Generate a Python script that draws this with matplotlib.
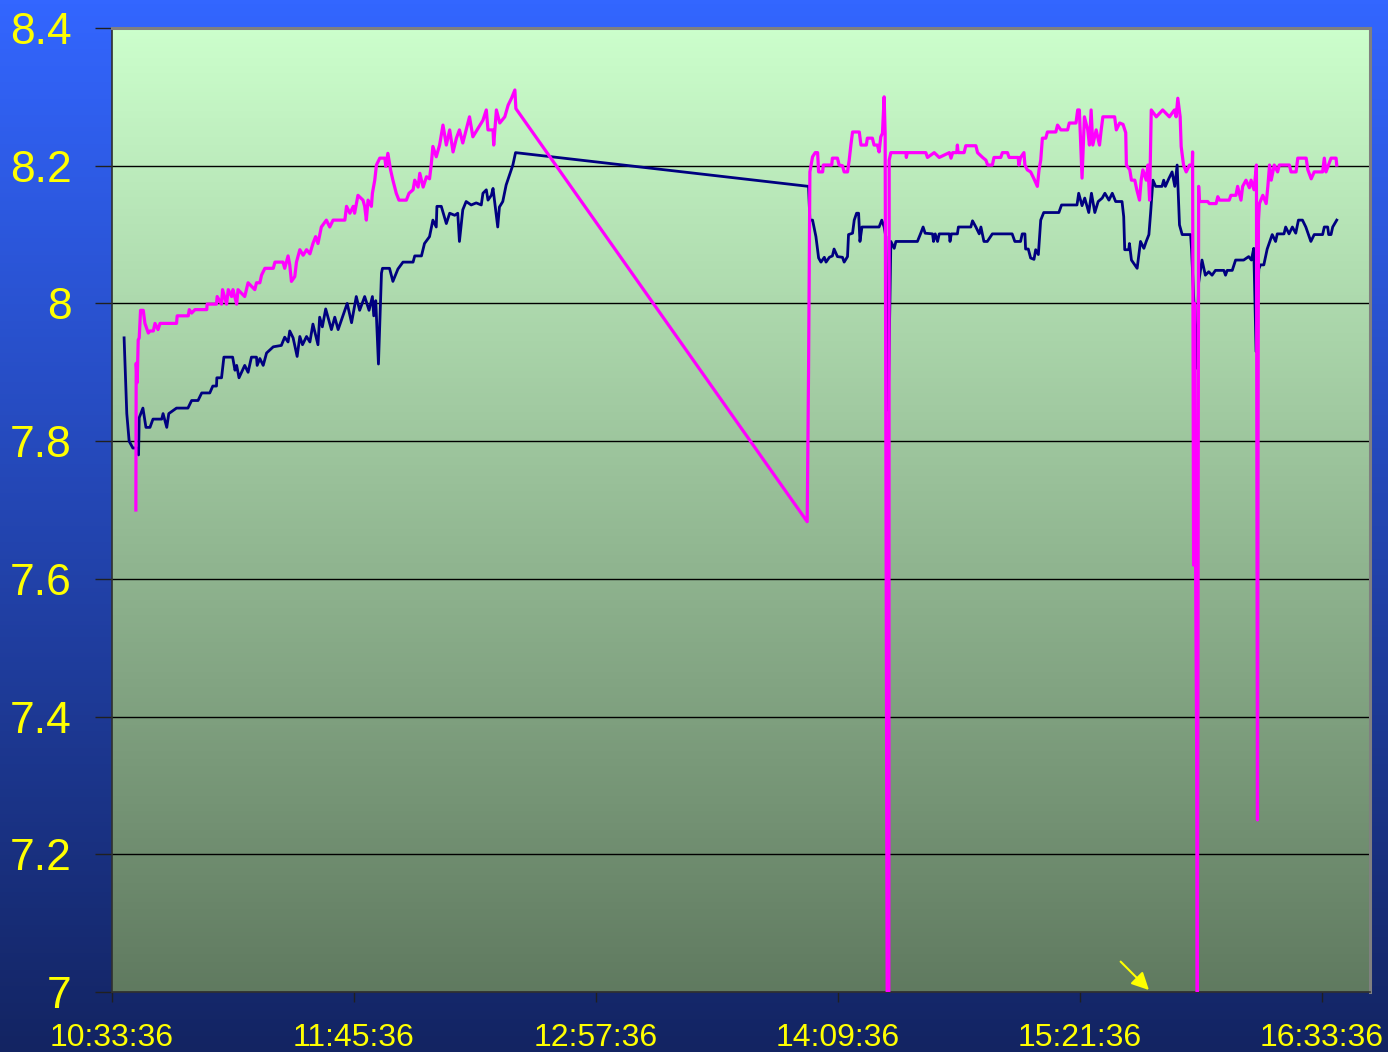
import numpy as np
import matplotlib
matplotlib.use('Agg')
import matplotlib.pyplot as plt
from matplotlib.ticker import FixedLocator

plt.rcParams['font.family'] = ['Liberation Sans', 'DejaVu Sans']

# minutes elapsed since 10:33:36
nav_t = [3.6, 4.4, 5.1, 6.2, 7.3, 7.9, 8.1, 9.2, 10.1, 11.3, 12.2, 14.8, 15.2, 16.3, 16.9, 19.2, 22.6, 23.7,
         25.6, 26.7, 29.1, 30.0, 31.1, 31.2, 32.6, 33.3, 35.9, 36.6, 37.1, 37.8, 39.5, 40.5, 41.5, 43.0, 43.2,
         44.0, 45.0, 46.0, 48.0, 50.4, 51.4, 52.4, 52.9, 53.9, 55.1, 55.9, 56.7, 57.9, 58.9, 59.8, 61.3, 61.8,
         62.6, 63.6, 65.3, 66.3, 67.3, 68.3, 70.0, 71.3, 72.7, 73.7, 75.2, 76.5, 77.5, 77.9, 78.5, 79.3, 80.2,
         80.5, 82.6, 83.6, 85.1, 86.6, 89.6, 90.1, 92.1, 93.0, 94.5, 95.5, 96.5, 96.7, 98.0, 99.5, 100.5,
         102.0, 102.9, 103.4, 104.4, 105.4, 106.9, 108.4, 109.9, 110.4, 111.4, 111.9, 112.9, 113.4, 114.8,
         115.3, 116.3, 117.3, 119.3, 120.1,
         207.3, 207.7, 208.5, 209.5, 210.3, 211.0, 212.0, 212.5, 213.5, 214.4, 214.9, 215.9, 217.4, 217.9,
         218.9, 219.2, 220.4, 220.9, 221.6, 222.2, 222.6, 223.2, 228.3, 229.1, 229.8, 230.3, 231.0, 231.8,
         232.8, 233.3, 239.7, 240.7, 241.4, 242.0, 244.2, 244.5, 245.0, 245.7, 246.2, 249.2, 249.4, 249.8,
         251.6, 251.9, 255.6, 256.1, 257.1, 258.1, 258.6, 259.5, 260.5, 262.0, 267.9, 268.7, 270.4, 270.9,
         271.7, 271.9, 272.7, 273.4, 274.4, 274.9, 275.7, 276.4, 277.3, 281.8, 282.6, 287.2, 287.7, 288.7,
         289.5, 290.7, 291.5, 292.5, 293.5, 294.7, 295.5, 296.7, 297.7, 298.7, 300.6, 301.1, 301.4, 302.6,
         302.8, 303.4, 305.1, 306.1, 307.1, 307.8, 308.6, 309.1, 309.8, 310.6, 312.5, 313.0, 313.5, 314.5,
         315.5, 316.3, 317.0, 317.7, 318.5, 321.0, 321.3, 322.0, 322.8, 323.4, 324.4, 325.4, 326.4, 327.4,
         328.4, 330.9, 331.4, 331.9, 333.4, 334.4, 336.8, 338.3, 339.1, 339.8, 340.5, 341.3, 341.8, 342.8,
         343.8, 345.3, 346.3, 346.8, 348.8, 349.3, 350.3, 351.3, 352.3, 353.1, 354.3, 355.3, 356.1, 356.8,
         357.8, 360.3, 360.8, 361.8, 362.1, 362.8, 363.3, 364.5]
nav_v = [7.95, 7.84, 7.80, 7.79, 7.79, 7.78, 7.834, 7.848, 7.82, 7.82, 7.832, 7.832, 7.84, 7.82, 7.84, 7.848,
         7.848, 7.859, 7.859, 7.87, 7.87, 7.88, 7.88, 7.892, 7.892, 7.922, 7.922, 7.903, 7.91, 7.892, 7.91,
         7.90, 7.922, 7.922, 7.91, 7.92, 7.91, 7.928, 7.937, 7.939, 7.951, 7.944, 7.96, 7.95, 7.923, 7.952,
         7.94, 7.952, 7.944, 7.97, 7.94, 7.98, 7.966, 7.992, 7.962, 7.98, 7.962, 7.976, 8.0, 7.972, 8.01, 7.99,
         8.01, 7.99, 8.01, 7.982, 8.004, 7.912, 8.044, 8.051, 8.051, 8.032, 8.05, 8.06, 8.06, 8.069, 8.069,
         8.087, 8.097, 8.121, 8.111, 8.141, 8.141, 8.116, 8.131, 8.128, 8.131, 8.09, 8.136, 8.148, 8.143,
         8.146, 8.143, 8.16, 8.165, 8.15, 8.157, 8.167, 8.111, 8.14, 8.148, 8.172, 8.201, 8.219,
         8.17, 8.121, 8.121, 8.097, 8.066, 8.06, 8.067, 8.06, 8.067, 8.069, 8.079, 8.068, 8.067, 8.06, 8.068,
         8.10, 8.102, 8.121, 8.131, 8.131, 8.09, 8.111, 8.111, 8.121, 8.111, 8.097, 7.845, 8.09, 8.08, 8.09,
         8.09, 8.102, 8.111, 8.102, 8.101, 8.09, 8.101, 8.09, 8.101, 8.101, 8.09, 8.101, 8.101, 8.111, 8.111,
         8.12, 8.111, 8.101, 8.111, 8.09, 8.09, 8.101, 8.101, 8.09, 8.09, 8.101, 8.101, 8.079, 8.079, 8.066,
         8.064, 8.078, 8.071, 8.121, 8.132, 8.132, 8.143, 8.143, 8.16, 8.142, 8.153, 8.132, 8.16, 8.132,
         8.148, 8.153, 8.16, 8.15, 8.16, 8.148, 8.148, 8.126, 8.078, 8.078, 8.087, 8.063, 8.051, 8.09, 8.08,
         8.09, 8.10, 8.131, 8.179, 8.17, 8.17, 8.179, 8.17, 8.181, 8.191, 8.17, 8.201, 8.114, 8.10, 8.10,
         8.078, 8.0, 7.906, 8.03, 8.063, 8.041, 8.046, 8.041, 8.048, 8.048, 8.041, 8.048, 8.048, 8.063, 8.063,
         8.068, 8.063, 8.08, 7.93, 8.05, 8.056, 8.056, 8.079, 8.10, 8.09, 8.101, 8.101, 8.111, 8.101, 8.111,
         8.102, 8.121, 8.121, 8.111, 8.10, 8.09, 8.10, 8.10, 8.111, 8.111, 8.10, 8.10, 8.111, 8.121]

mag_t = [7.1, 7.2, 7.5, 7.8, 8.1, 8.5, 9.3, 9.8, 10.8, 11.3, 12.3, 12.8, 13.7, 14.3, 19.2, 19.4, 22.7, 23.0,
         23.7, 24.7, 28.2, 28.3, 31.1, 31.3, 32.6, 32.9, 34.1, 34.6, 35.6, 36.0, 37.1, 37.5, 39.5, 40.0, 40.5,
         42.5, 43.0, 44.0, 44.5, 45.5, 48.0, 48.5, 50.9, 51.4, 52.4, 52.9, 53.4, 54.4, 54.9, 55.9, 56.9, 57.9,
         58.9, 59.8, 60.6, 61.3, 62.3, 63.8, 64.8, 65.8, 69.3, 69.8, 70.8, 71.8, 72.2, 73.2, 74.7, 75.2, 75.7,
         76.2, 77.2, 77.5, 78.2, 78.7, 79.7, 81.2, 81.5, 82.1, 82.9, 83.6, 84.6, 85.4, 87.6, 88.4, 89.6, 90.1,
         91.1, 91.6, 92.6, 93.6, 94.5, 95.0, 95.5, 96.5, 97.5, 98.5, 99.5, 100.5, 101.5, 102.5, 103.4, 104.4,
         105.4, 106.4, 107.4, 108.9, 110.4, 111.4, 111.9, 113.4, 113.6, 114.4, 115.4, 116.9, 117.9, 118.9,
         119.9, 120.2,
         206.9, 207.3, 207.7, 208.5, 209.3, 210.0, 210.3, 211.5, 211.7, 214.2, 214.4, 215.9, 216.4, 217.4,
         217.9, 218.9, 219.4, 219.9, 220.4, 222.4, 222.9, 224.5, 224.8, 226.3, 226.8, 227.8, 228.3, 228.8,
         229.3, 229.8, 230.1, 230.7, 231.2, 231.3, 231.8, 236.3, 236.4, 236.7, 242.2, 242.7, 244.7, 246.2,
         249.2, 249.7, 250.2, 251.4, 251.6, 251.8, 253.6, 254.1, 257.1, 257.6, 259.1, 260.1, 260.6, 262.0,
         262.5, 264.5, 265.0, 266.5, 267.0, 269.7, 269.9, 270.4, 271.4, 271.7, 272.4, 273.4, 274.4, 275.4,
         275.9, 276.4, 276.9, 277.9, 278.4, 280.9, 281.4, 282.4, 284.4, 284.9, 286.9, 287.4, 287.9, 288.7,
         289.4, 290.4, 290.9, 291.4, 291.9, 292.9, 293.9, 294.4, 294.9, 298.4, 298.9, 299.9, 300.9, 301.7,
         301.9, 302.9, 303.4, 304.4, 305.0, 305.8, 306.3, 306.8, 307.8, 308.3, 308.8, 309.3, 310.8, 312.7,
         314.7, 316.2, 316.7, 317.2, 317.9, 318.2, 318.9, 319.7, 320.7, 321.5, 321.6, 321.9, 322.2, 322.5,
         322.8, 323.0, 323.2, 323.4, 323.6, 326.1, 326.6, 328.6, 329.1, 329.6, 332.5, 333.0, 334.5, 335.0,
         336.0, 336.5, 337.5, 338.5, 339.0, 339.9, 340.6, 340.9, 341.2, 341.5, 342.5, 343.5, 344.0, 344.5,
         345.0, 345.9, 346.9, 347.4, 350.4, 350.9, 352.4, 352.9, 355.4, 355.9, 356.9, 357.8, 360.3, 360.8,
         361.3, 362.8, 364.3, 364.5]
mag_v = [7.70, 7.913, 7.885, 7.947, 7.95, 7.99, 7.99, 7.971, 7.957, 7.96, 7.96, 7.971, 7.962, 7.971, 7.971,
         7.982, 7.982, 7.991, 7.986, 7.991, 7.991, 7.999, 7.999, 8.01, 7.999, 8.02, 7.999, 8.02, 8.01, 8.02,
         7.999, 8.02, 8.01, 8.02, 8.03, 8.02, 8.03, 8.03, 8.041, 8.051, 8.051, 8.06, 8.06, 8.051, 8.069, 8.056,
         8.032, 8.039, 8.06, 8.078, 8.07, 8.078, 8.072, 8.087, 8.097, 8.087, 8.111, 8.121, 8.111, 8.121, 8.121,
         8.141, 8.131, 8.141, 8.131, 8.157, 8.15, 8.141, 8.121, 8.15, 8.141, 8.16, 8.179, 8.201, 8.211, 8.211,
         8.199, 8.218, 8.194, 8.179, 8.16, 8.15, 8.15, 8.16, 8.165, 8.179, 8.169, 8.189, 8.169, 8.184, 8.181,
         8.201, 8.228, 8.213, 8.23, 8.259, 8.23, 8.252, 8.22, 8.24, 8.252, 8.233, 8.252, 8.271, 8.242, 8.254,
         8.266, 8.281, 8.252, 8.252, 8.23, 8.281, 8.262, 8.271, 8.288, 8.298, 8.31, 8.283,
         7.683, 7.90, 8.191, 8.213, 8.219, 8.219, 8.191, 8.191, 8.201, 8.201, 8.211, 8.211, 8.201, 8.2, 8.191,
         8.191, 8.208, 8.23, 8.249, 8.249, 8.23, 8.23, 8.24, 8.24, 8.23, 8.23, 8.22, 8.242, 8.247, 8.30, 8.247,
         7.0, 7.0, 8.208, 8.219, 8.219, 8.212, 8.219, 8.219, 8.212, 8.219, 8.212, 8.219, 8.211, 8.219, 8.219,
         8.23, 8.219, 8.219, 8.229, 8.229, 8.219, 8.212, 8.208, 8.201, 8.201, 8.212, 8.212, 8.219, 8.219, 8.212,
         8.212, 8.201, 8.212, 8.219, 8.201, 8.194, 8.191, 8.181, 8.17, 8.194, 8.208, 8.24, 8.24, 8.249, 8.249,
         8.259, 8.252, 8.252, 8.262, 8.262, 8.281, 8.281, 8.182, 8.271, 8.252, 8.23, 8.281, 8.23, 8.252, 8.23,
         8.252, 8.271, 8.271, 8.252, 8.262, 8.26, 8.248, 8.201, 8.194, 8.179, 8.179, 8.165, 8.15, 8.179, 8.194,
         8.179, 8.201, 8.15, 8.281, 8.271, 8.281, 8.271, 8.281, 8.271, 8.298, 8.271, 8.228, 8.201, 8.191,
         8.201, 8.201, 8.22, 7.62, 8.0, 7.62, 7.36, 7.0, 7.5, 8.17, 8.148, 8.148, 8.145, 8.145, 8.155, 8.15,
         8.15, 8.157, 8.157, 8.17, 8.15, 8.17, 8.179, 8.168, 8.179, 8.165, 8.201, 7.25, 8.12, 8.145, 8.157,
         8.145, 8.17, 8.201, 8.179, 8.201, 8.191, 8.201, 8.201, 8.191, 8.191, 8.211, 8.211, 8.194, 8.181,
         8.191, 8.191, 8.211, 8.191, 8.211, 8.211, 8.201]

x_ticks = [0, 72, 144, 216, 288, 360]
x_labels = ['10:33:36', '11:45:36', '12:57:36', '14:09:36', '15:21:36', '16:33:36']
y_ticks = [7, 7.2, 7.4, 7.6, 7.8, 8, 8.2, 8.4]
y_labels = ['7', '7.2', '7.4', '7.6', '7.8', '8', '8.2', '8.4']

fig = plt.figure(figsize=(13.88, 10.52), dpi=100)

# blue slide background
bg = fig.add_axes([0, 0, 1, 1], zorder=-10)
top = np.array([51, 102, 255]) / 255
bot = np.array([19, 36, 98]) / 255
f = np.linspace(0, 1, 256)[:, None, None]
grad = top * (1 - f) + bot * f
bg.imshow(grad, aspect='auto', extent=[0, 1, 0, 1])
bg.axis('off')

W, H = 1388, 1052
ax = fig.add_axes([112 / W, (H - 992) / H, (1370 - 112) / W, (992 - 28) / H])
ax.patch.set_visible(False)
ptop = np.array([204, 255, 204]) / 255
pbot = np.array([96, 122, 96]) / 255
pgrad = ptop * (1 - f) + pbot * f
ax.imshow(pgrad, aspect='auto', extent=[0, 1, 0, 1], transform=ax.transAxes, zorder=0)

ax.plot(nav_t, nav_v, color='#000080', lw=2.0, zorder=3)
ax.plot(mag_t, mag_v, color='#ff00ff', lw=2.3, zorder=4)

ax.set_xlim(0, 374.4)
ax.set_ylim(7, 8.4)
ax.xaxis.set_major_locator(FixedLocator(x_ticks))
ax.set_xticklabels(x_labels)
ax.set_yticks(y_ticks)
ax.set_yticklabels(y_labels)
ax.grid(axis='y', color='black', lw=1, zorder=1)
ax.tick_params(axis='y', length=12, width=1, color='#202020', pad=17, labelsize=32, labelcolor='#ffff00')
ax.tick_params(axis='x', length=7, width=1, color='#202020', pad=15, labelsize=23, labelcolor='#ffff00')
for s in ['left', 'bottom']:
    ax.spines[s].set_color('#303030')
    ax.spines[s].set_linewidth(1.2)
for s in ['right', 'top']:
    ax.spines[s].set_color('#808080')
    ax.spines[s].set_linewidth(2.2)

ax.annotate('', xy=(309.2, 7.0), xytext=(299.6, 7.047),
            arrowprops=dict(arrowstyle='-|>', color='#ffff00', lw=1.5, mutation_scale=26))

fig.savefig('out.png', dpi=100)
